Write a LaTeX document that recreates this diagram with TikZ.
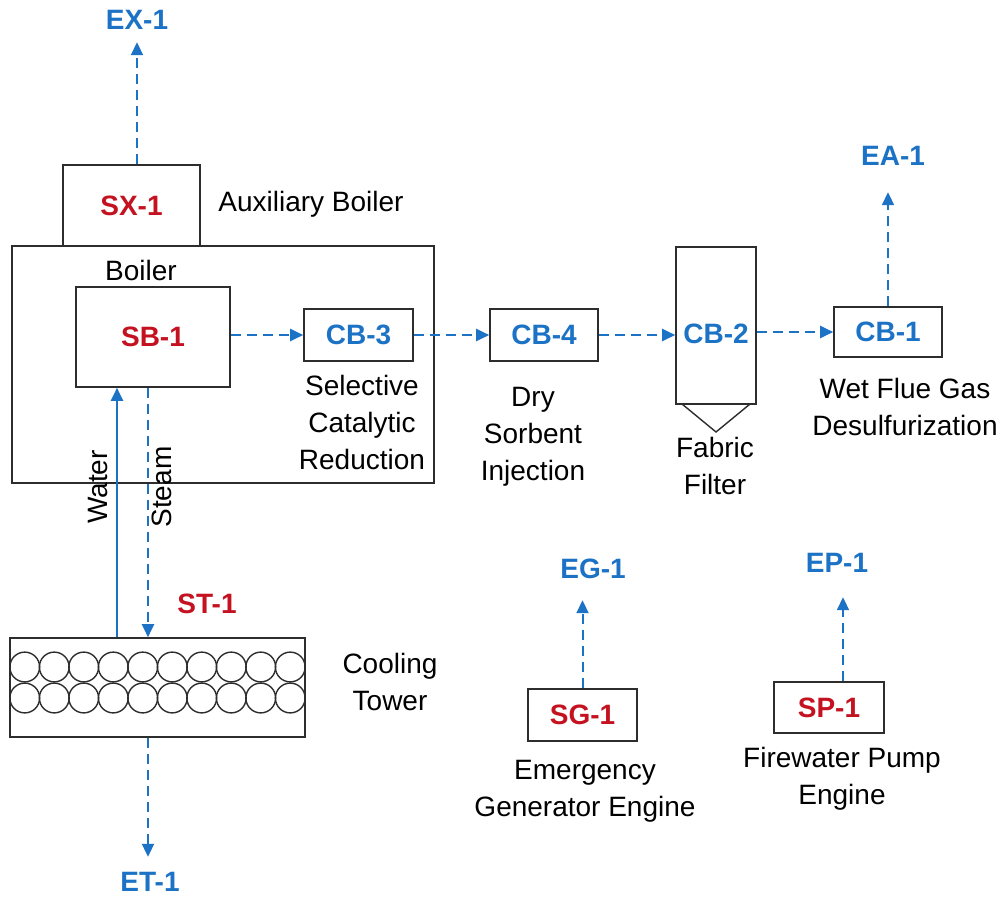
\documentclass[tikz,border=0pt]{standalone}
\usepackage{fontspec}
\setmainfont{Liberation Sans}
\usetikzlibrary{arrows.meta}
\definecolor{fblue}{RGB}{28,114,196}
\definecolor{fred}{RGB}{196,18,32}
\definecolor{fline}{RGB}{45,45,45}
\tikzset{
  box/.style={draw=fline, line width=1.6pt, rectangle, inner sep=0pt},
  lbl/.style={inner sep=0pt, text height=20pt, text depth=0pt, font=\fontsize{28}{37}\selectfont},
  multi/.style={inner sep=0pt, anchor=north, align=center, font=\fontsize{28}{37}\selectfont},
  tagb/.style={lbl, text=fblue, font=\fontsize{28}{33}\selectfont\bfseries},
  tagr/.style={lbl, text=fred, font=\fontsize{28}{33}\selectfont\bfseries},
  boxb/.style={box, text=fblue, font=\fontsize{28}{33}\selectfont\bfseries},
  boxr/.style={box, text=fred, font=\fontsize{28}{33}\selectfont\bfseries},
  tip/.style={-{Triangle[length=13pt,width=12pt]}},
  flow/.style={draw=fblue, line width=2pt, dash pattern=on 10pt off 6pt, tip},
  solidflow/.style={draw=fblue, line width=2pt, tip},
  tube/.style={draw=fline, line width=1.4pt},
}
\begin{document}
\begin{tikzpicture}[x=1pt, y=-1pt]
\useasboundingbox (0,0) rectangle (1006,898);

% main boiler
\node[box, minimum width=422pt, minimum height=237pt] (boiler) at (223,364.5) {};
\node[lbl] (boilerlbl) at (141,270) {Boiler};
\node[boxr, minimum width=137pt, minimum height=81pt] (SX1) at (131.5,205.5) {SX-1};
\node[lbl] (auxlbl) at (311,201) {Auxiliary Boiler};
\node[tagb] (EX1) at (137,19) {EX-1};
\node[boxr, minimum width=154pt, minimum height=100pt] (SB1) at (153,337) {SB-1};

% control devices
\node[boxb, minimum width=109pt, minimum height=52pt] (CB3) at (358.5,335) {CB-3};
\node[multi] (scr) at (362,375) {Selective\\Catalytic\\Reduction};
\node[boxb, minimum width=108pt, minimum height=52pt] (CB4) at (544,335) {CB-4};
\node[multi] (dsi) at (533,387) {Dry\\Sorbent\\Injection};
\node[box, minimum width=80pt, minimum height=157pt] (CB2) at (716,325.5) {};
\node[tagb] (CB2lbl) at (716,333) {CB-2};
\node[multi] (ff) at (715,437) {Fabric\\Filter};
\node[boxb, minimum width=108pt, minimum height=50pt] (CB1) at (888,332) {CB-1};
\node[multi] (fgd) at (905,378) {Wet Flue Gas\\Desulfurization};
\node[tagb] (EA1) at (893,155) {EA-1};

% hopper of fabric filter
\coordinate (hopL) at (682,404);
\coordinate (hopR) at (750,404);
\coordinate (hopA) at (716,432);
\draw[tube] (hopL) -- (hopA) -- (hopR);

% cooling tower
\node[box, minimum width=295pt, minimum height=99pt] (CT) at (157.5,687.5) {};
\foreach \i in {0,...,9} {
  \draw[tube] (24.75+29.5*\i,667) circle[radius=14.9pt];
  \draw[tube] (24.75+29.5*\i,698) circle[radius=14.9pt];
}
\node[multi] (ctlbl) at (390,653) {Cooling\\Tower};
\node[tagr] (ST1) at (207,603) {ST-1};
\node[tagb] (ET1) at (150,881) {ET-1};
\node[lbl, rotate=90] (water) at (97,487) {Water};
\node[lbl, rotate=90] (steam) at (161,487) {Steam};

% engines
\node[boxr, minimum width=109pt, minimum height=52pt] (SG1) at (582.5,715) {SG-1};
\node[multi] (sglbl) at (585,760) {Emergency\\Generator Engine};
\node[tagb] (EG1) at (593,568) {EG-1};
\node[boxr, minimum width=110pt, minimum height=51pt] (SP1) at (829,707.5) {SP-1};
\node[multi] (splbl) at (842,747) {Firewater Pump\\Engine};
\node[tagb] (EP1) at (837,562) {EP-1};

% connectors
\draw[flow, shorten >=13pt] (SX1.north -| EX1) -- (EX1.south);
\draw[flow] (SB1.east |- CB3.west) -- (CB3.west);
\draw[flow] (CB3.east) -- (CB4.west);
\draw[flow] (CB4.east) -- (CB2.west |- CB4.east);
\draw[flow] (CB2.east |- CB1.west) -- (CB1.west);
\draw[flow, shorten >=27pt] (CB1.north) -- (CB1.north |- EA1.south);
\draw[solidflow] ([xshift=-36pt]SB1.south |- CT.north) -- ([xshift=-36pt]SB1.south);
\draw[flow] ([xshift=-5pt]SB1.south) -- ([xshift=-5pt]SB1.south |- CT.north);
\draw[flow, shorten >=14pt] ([xshift=-5pt]SB1.south |- CT.south) -- ([xshift=-5pt]SB1.south |- ET1.north);
\draw[flow, shorten >=22pt] (SG1.north) -- (SG1.north |- EG1.south);
\draw[flow, shorten >=25pt] ([xshift=14pt]SP1.north) -- ([xshift=14pt]SP1.north |- EP1.south);
\end{tikzpicture}
\end{document}
